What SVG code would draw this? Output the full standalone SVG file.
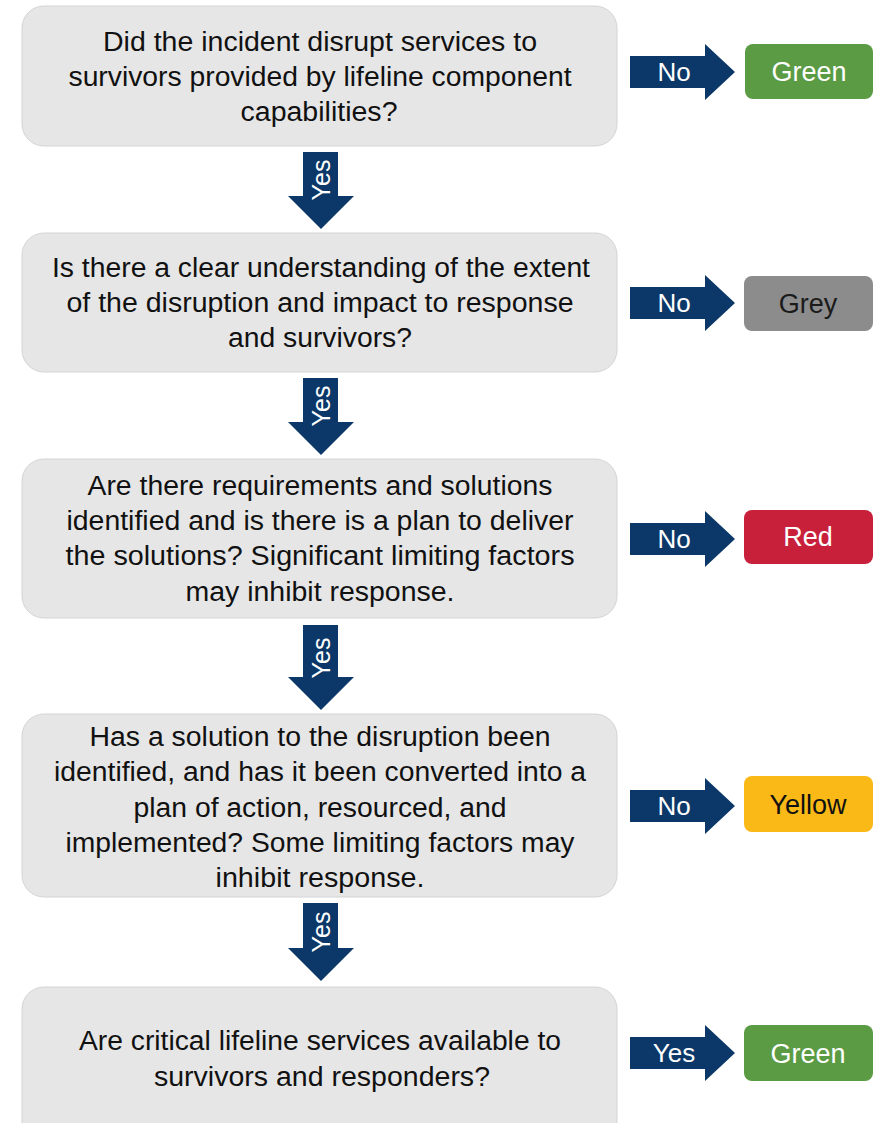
<svg xmlns="http://www.w3.org/2000/svg" width="882" height="1123" viewBox="0 0 882 1123">
  <style>
    .q { fill: #e6e6e6; stroke: #d4d4d4; stroke-width: 1; }
    .qt { font-family: "Liberation Sans", Arial, sans-serif; font-size: 27px; fill: #111; text-anchor: middle; }
    .arr { fill: #0b3868; }
    .al { font-family: "Liberation Sans", Arial, sans-serif; font-size: 26px; fill: #fff; text-anchor: middle; }
    .dl { font-family: "Liberation Sans", Arial, sans-serif; font-size: 25px; fill: #fff; text-anchor: middle; }
    .rl { font-family: "Liberation Sans", Arial, sans-serif; font-size: 27px; text-anchor: middle; }
  </style>
  <rect width="882" height="1123" fill="#fff"/>

  <g id="connectors">
    <!-- downward "Yes" arrows -->
    <g id="down1"><path class="arr" d="M303 152 H338 V196 H354 L321 229 L288 196 H303 Z"/><text class="dl" transform="translate(330 180) rotate(-90)">Yes</text></g>
    <g id="down2"><path class="arr" d="M303 378 H338 V422 H354 L321 455 L288 422 H303 Z"/><text class="dl" transform="translate(330 406) rotate(-90)">Yes</text></g>
    <g id="down3"><path class="arr" d="M303 625 H338 V677 H354 L321 710 L288 677 H303 Z"/><text class="dl" transform="translate(330 658) rotate(-90)">Yes</text></g>
    <g id="down4"><path class="arr" d="M303 903 H338 V948 H354 L321 981 L288 948 H303 Z"/><text class="dl" transform="translate(330 932) rotate(-90)">Yes</text></g>
    <!-- rightward outcome arrows -->
    <g id="right1"><path class="arr" d="M630 56 H705 V44 L735 72 L705 100 V88 H630 Z"/><text class="al" x="674" y="81">No</text></g>
    <g id="right2"><path class="arr" d="M630 287 H705 V275 L735 303 L705 331 V319 H630 Z"/><text class="al" x="674" y="312">No</text></g>
    <g id="right3"><path class="arr" d="M630 523 H705 V511 L735 539 L705 567 V555 H630 Z"/><text class="al" x="674" y="548">No</text></g>
    <g id="right4"><path class="arr" d="M630 790 H705 V778 L735 806 L705 834 V822 H630 Z"/><text class="al" x="674" y="815">No</text></g>
    <g id="right5"><path class="arr" d="M630 1037 H705 V1025 L735 1053 L705 1081 V1069 H630 Z"/><text class="al" x="674" y="1062">Yes</text></g>
  </g>

  <g id="q1">
    <rect class="q" x="22" y="6" width="595" height="140" rx="22"/>
    <text class="qt" x="320" y="51" textLength="434" lengthAdjust="spacingAndGlyphs">Did the incident disrupt services to</text>
    <text class="qt" x="320" y="86" textLength="503" lengthAdjust="spacingAndGlyphs">survivors provided by lifeline component</text>
    <text class="qt" x="319" y="121" textLength="157" lengthAdjust="spacingAndGlyphs">capabilities?</text>
  </g>
  <g id="q2">
    <rect class="q" x="22" y="233" width="595" height="139" rx="22"/>
    <text class="qt" x="321" y="277" textLength="538" lengthAdjust="spacingAndGlyphs">Is there a clear understanding of the extent</text>
    <text class="qt" x="320" y="312" textLength="507" lengthAdjust="spacingAndGlyphs">of the disruption and impact to response</text>
    <text class="qt" x="320" y="347" textLength="184" lengthAdjust="spacingAndGlyphs">and survivors?</text>
  </g>
  <g id="q3">
    <rect class="q" x="22" y="459" width="595" height="159" rx="22"/>
    <text class="qt" x="320" y="495" textLength="465" lengthAdjust="spacingAndGlyphs">Are there requirements and solutions</text>
    <text class="qt" x="320" y="530" textLength="507" lengthAdjust="spacingAndGlyphs">identified and is there is a plan to deliver</text>
    <text class="qt" x="320" y="565" textLength="509" lengthAdjust="spacingAndGlyphs">the solutions? Significant limiting factors</text>
    <text class="qt" x="320" y="601" textLength="269" lengthAdjust="spacingAndGlyphs">may inhibit response.</text>
  </g>
  <g id="q4">
    <rect class="q" x="22" y="714" width="595" height="183" rx="22"/>
    <text class="qt" x="320" y="746" textLength="461" lengthAdjust="spacingAndGlyphs">Has a solution to the disruption been</text>
    <text class="qt" x="320" y="781" textLength="532" lengthAdjust="spacingAndGlyphs">identified, and has it been converted into a</text>
    <text class="qt" x="320" y="817" textLength="373" lengthAdjust="spacingAndGlyphs">plan of action, resourced, and</text>
    <text class="qt" x="320" y="852" textLength="509" lengthAdjust="spacingAndGlyphs">implemented? Some limiting factors may</text>
    <text class="qt" x="320" y="887" textLength="209" lengthAdjust="spacingAndGlyphs">inhibit response.</text>
  </g>
  <g id="q5">
    <rect class="q" x="22" y="987" width="595" height="160" rx="22"/>
    <text class="qt" x="320" y="1050" textLength="482" lengthAdjust="spacingAndGlyphs">Are critical lifeline services available to</text>
    <text class="qt" x="322" y="1086" textLength="336" lengthAdjust="spacingAndGlyphs">survivors and responders?</text>
  </g>

  <g id="r1"><rect x="745" y="44" width="128" height="55" rx="8" fill="#5b9b44"/><text class="rl" x="809" y="81" fill="#fff">Green</text></g>
  <g id="r2"><rect x="744" y="276" width="129" height="55" rx="8" fill="#8c8c8d"/><text class="rl" x="808" y="313" fill="#1a1a1a">Grey</text></g>
  <g id="r3"><rect x="744" y="510" width="129" height="54" rx="8" fill="#c8203a"/><text class="rl" x="808" y="546" fill="#fff">Red</text></g>
  <g id="r4"><rect x="744" y="776" width="129" height="56" rx="8" fill="#fbb918"/><text class="rl" x="808" y="814" fill="#111">Yellow</text></g>
  <g id="r5"><rect x="744" y="1025" width="129" height="56" rx="8" fill="#5b9b44"/><text class="rl" x="808" y="1063" fill="#fff">Green</text></g>
</svg>
